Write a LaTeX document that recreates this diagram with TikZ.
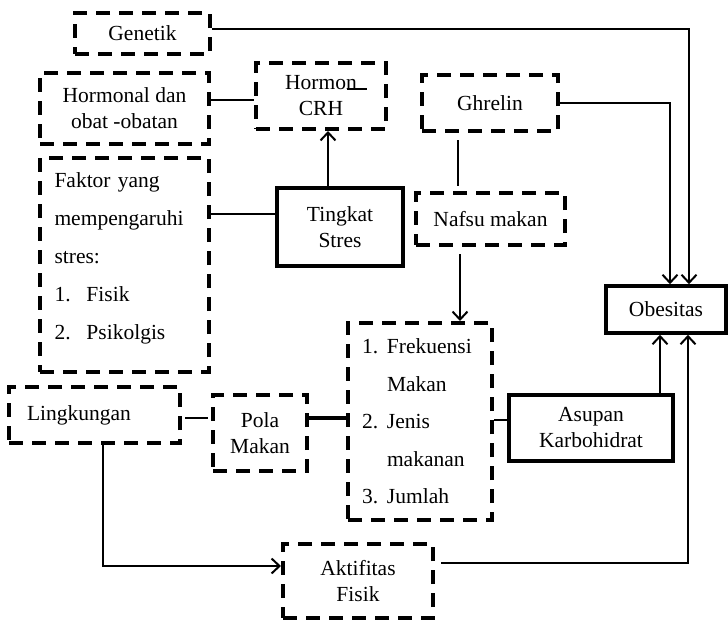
\documentclass[tikz,border=0pt]{standalone}
\usepackage{fontspec}
\setmainfont{Liberation Serif}
\usetikzlibrary{arrows.meta}
\usetikzlibrary{calc}

\begin{document}
\begin{tikzpicture}[
        x=0.5pt, y=-0.5pt,
        every node/.style={font=\fontsize{10.75}{13}\selectfont, align=center, inner sep=0pt},
        dbox/.style={draw, line width=2pt, dash pattern=on 7pt off 4.5pt},
        sbox/.style={draw, line width=1.8pt},
        lnk/.style={line width=1pt},
        arr/.style={line width=1pt, -{Straight Barb[length=4pt, width=7.5pt]}} ]

            \useasboundingbox (0,0) rectangle (728,621);

            \node[dbox, minimum width=67.5pt, minimum height=20.5pt] (gen) at (142.5,33.5) {Genetik};
            \node[dbox, minimum width=84.5pt, minimum height=35.5pt] (horm) at (124.5,108.5) {Hormonal dan\\obat -obatan};
            \node[dbox, minimum width=65pt, minimum height=33pt] (crh) at (321,96) {Hormon\\CRH};
            \node[dbox, minimum width=68pt, minimum height=28pt] (ghr) at (490,103) {Ghrelin};
            \node[dbox, minimum width=84.5pt, minimum height=107pt,
                font=\fontsize{10.75}{19}\selectfont, align=left,
                text width=70pt, inner xsep=7.25pt] (fak) at (124.5,265)
            {Faktor yang\\mempengaruhi\\stres:\\\makebox[16pt][l]{1.}Fisik\\\makebox[16pt][l]{2.}Psikolgis\\[-10pt]\mbox{}};
            \node[sbox, minimum width=63pt, minimum height=39pt] (stres) at (340,227) {Tingkat\\Stres};
            \node[dbox, minimum width=74.5pt, minimum height=26pt] (nafsu) at (490.5,219) {Nafsu makan};
            \node[sbox, minimum width=60pt, minimum height=23.5pt] (obes) at (666,309.5) {Obesitas};
            \node[dbox, minimum width=85.5pt, minimum height=28pt, align=left,
                text width=67.5pt, inner xsep=9pt] (ling) at (94.5,415) {Lingkungan};
            \node[dbox, minimum width=47pt, minimum height=38pt] (pola) at (260,433) {Pola\\Makan};
            \node[dbox, minimum width=72pt, minimum height=98.5pt,
                font=\fontsize{10.75}{18.75}\selectfont, align=left,
                text width=58pt, inner xsep=7pt] (list) at (420,421.5)
            {\makebox[12.5pt][l]{1.}Frekuensi\\\hspace*{12.5pt}Makan\\\makebox[12.5pt][l]{2.}Jenis\\\hspace*{12.5pt}makanan\\\makebox[12.5pt][l]{3.}Jumlah};
            \node[sbox, minimum width=82pt, minimum height=33pt] (asup) at (591,428) {Asupan\\Karbohidrat};
            \node[dbox, minimum width=75pt, minimum height=37pt] (akt) at (358,581) {Aktifitas\\Fisik};

            \draw[arr] ($(gen.east)+(0,-5)$) -| ($(obes.north)+(23,0)$);
            \draw[arr] (ghr.east) -| ($(obes.north)+(4,0)$);

            \coordinate (hc) at ($(horm.east)+(0,-8.5)$);
            \draw[lnk] (hc) -- (hc -| crh.west);
            \draw[lnk] ($(crh.center)+(26,-7)$) -- ($(crh.center)+(46,-7)$);

            \coordinate (sc) at ($(stres.north)+(-12,0)$);
            \draw[arr] (sc) -- (sc |- crh.south);
            \coordinate (fs) at ($(stres.west)+(0,-13)$);
            \draw[lnk] (fs -| fak.east) -- (fs);

            \coordinate (gn) at ($(ghr.south)+(-32,0)$);
            \draw[lnk, shorten <=3.5pt, shorten >=2.5pt] (gn) -- (gn |- nafsu.north);
            \coordinate (nl) at ($(nafsu.south)+(-30.5,0)$);
            \draw[arr, shorten <=3.5pt] (nl) -- (nl |- list.north);

            \coordinate (lp) at ($(ling.east)+(0,3)$);
            \draw[lnk, shorten <=1.5pt, shorten >=1.5pt] (lp) -- (lp -| pola.west);
            \coordinate (pl) at ($(pola.east)+(0,-15)$);
            \draw[lnk, line width=2pt] (pl) -- (pl -| list.west);
            \coordinate (la) at ($(asup.west)+(0,-8)$);
            \draw[lnk] (la -| list.east) -- (la);

            \coordinate (ao) at ($(asup.north)+(69,0)$);
            \draw[arr] (ao) -- (ao |- obes.south);
            \draw[arr, shorten <=3pt] ($(akt.east)+(0,-18)$) -| ($(obes.south)+(22,0)$);
            \coordinate (ls) at ($(ling.south)+(8.5,0)$);
            \draw[arr] (ls) |- ($(akt.west)+(0,-15)$);

        \end{tikzpicture}
\end{document}
